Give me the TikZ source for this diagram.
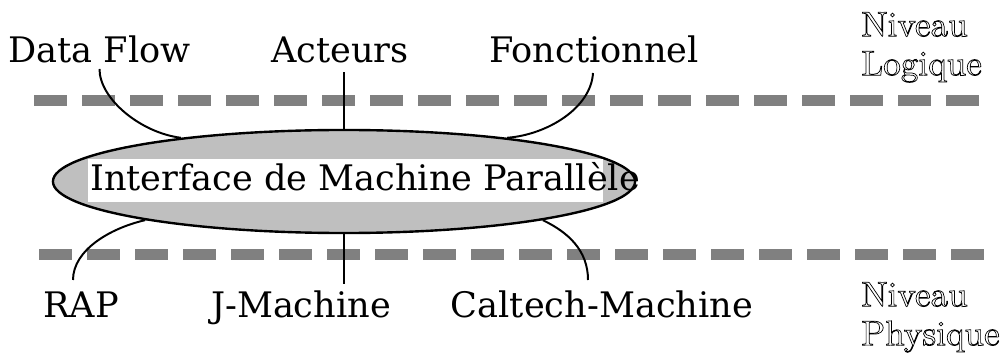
\documentclass[tikz,border=0pt]{standalone}
\usepackage{fontspec}
\setmainfont{DejaVu Serif}
\newfontfamily\lmfont{lmroman10-regular}[Extension=.otf]
\usetikzlibrary{calc,shapes.geometric}
\newcommand\hollow[1]{\special{pdf:code q 1 Tr 0.5 w}#1\special{pdf:code Q}}

\begin{document}
\begin{tikzpicture}[x=0.025cm,y=-0.025cm,
	lbl/.style={font=\fontsize{25}{30}\selectfont,inner sep=0,anchor=base},
	level/.style={font=\lmfont\fontsize{25}{27.7}\selectfont,inner sep=0,anchor=north west,align=left},
	rule/.style={gray,line width=7.8pt,dash pattern=on 0.825cm off 0.375cm},
	link/.style={line width=1.4pt}]
	\useasboundingbox (0,0) rectangle (1001,354);
	% separations between the levels
	\draw[rule] (34,100.5) -- (980,100.5);
	\draw[rule] (39,254.5) -- (984,254.5);
	% the interface
	\node[ellipse,draw,line width=1.7pt,fill=gray!50,minimum width=14.55cm,minimum height=2.575cm,inner sep=0] (imp) at (344,181.5) {};
	\fill[white] (88,159) rectangle (603,202);
	\node[lbl,anchor=base west] (impt) at (90,191) {Interface de Machine Parallèle};
	% logical models
	\node[lbl] (df)  at (99.5,63) {Data Flow};
	\node[lbl] (act) at (340,63)  {Acteurs};
	\node[lbl] (fct) at (594,63)  {Fonctionnel};
	% physical machines
	\node[lbl] (rap) at (81,317)  {RAP};
	\node[lbl] (jm)  at (301,317) {J-Machine};
	\node[lbl] (ctm) at (602,317) {Caltech-Machine};
	% levels
	\node[level] (lg) at (861,12)  {\hollow{Niveau}\\\hollow{Logique}};
	\node[level] (ph) at (861,282) {\hollow{Niveau}\\\hollow{Physique}};
	% links
	\draw[link] ($(df.base)+(0,6)$) .. controls +(0,30) and +(-40,-5) .. (imp.165);
	\draw[link] (imp.north) -- ++(0,-57);
	\draw[link] ($(fct.base)+(-1,10)$) .. controls +(-2,35) and +(40,-3) .. (imp.15);
	\draw[link] ($(rap.base)+(-8,-37)$) .. controls +(0,-30) and +(-35,8) .. (imp.191);
	\draw[link] (imp.south) -- ++(0,50);
	\draw[link] ($(ctm.base)+(-14,-37)$) .. controls +(0,-30) and +(25,12) .. (imp.-11);
\end{tikzpicture}
\end{document}
